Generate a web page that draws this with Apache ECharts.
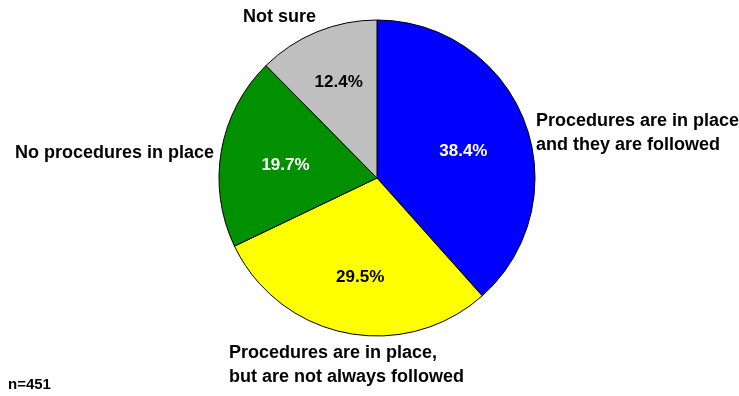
<!DOCTYPE html>
<html>
<head>
<meta charset="utf-8">
<script src="https://cdn.jsdelivr.net/npm/echarts@6/dist/echarts.min.js"></script>
<style>
  html, body { margin: 0; padding: 0; background: #fff; }
  #chart { width: 739px; height: 396px; }
</style>
</head>
<body>
<div id="chart"></div>
<script>
// Survey answers and their shares (percent)
const categories = [
  'Procedures are in place\nand they are followed',
  'Procedures are in place,\nbut are not always followed',
  'No procedures in place',
  'Not sure'
];
const values = [38.4, 29.5, 19.7, 12.4];
const sliceColors = ['#0000ff', '#ffff00', '#009000', '#c0c0c0'];
const valueLabelColors = ['#ffffff', '#000000', '#ffffff', '#000000'];
const sampleNote = 'n=451';

const FONT = '"Liberation Sans", Arial, sans-serif';
const CX = 377, CY = 178, R = 158;

// anchor points (left edge, vertical middle) of the category labels
const nameAnchors = [
  { x: 536, y: 133 },
  { x: 229, y: 365 },
  { x: 15, y: 153 },
  { x: 243, y: 17 }
];
// small nudges for the percentage labels inside the slices
const valueNudges = [
  { dx: -8, dy: 9 },
  { dx: 3, dy: 0 },
  { dx: 8, dy: 5 },
  { dx: 0, dy: -2 }
];

const sliceData = categories.map((name, i) => ({
  name: name,
  value: values[i],
  itemStyle: { color: sliceColors[i] }
}));

const valueData = categories.map((name, i) => ({
  name: name,
  value: values[i],
  label: { color: valueLabelColors[i] }
}));

const chart = echarts.init(document.getElementById('chart'), null, { renderer: 'canvas' });
chart.setOption({
  backgroundColor: '#ffffff',
  animation: false,
  graphic: [{
    type: 'text',
    left: 8,
    top: 377,
    style: { text: sampleNote, font: 'bold 15px ' + FONT, fill: '#000' }
  }],
  series: [
    {
      type: 'pie',
      center: [CX, CY],
      radius: [0, R],
      startAngle: 90,
      clockwise: true,
      silent: true,
      data: sliceData,
      itemStyle: { borderColor: '#000', borderWidth: 1 },
      label: {
        show: true,
        position: 'outside',
        formatter: '{b}',
        fontFamily: FONT,
        fontWeight: 'bold',
        fontSize: 18,
        lineHeight: 24,
        color: '#000',
        align: 'left',
        overflow: 'none'
      },
      labelLine: { show: false },
      labelLayout: function (p) {
        const a = nameAnchors[p.dataIndex];
        return { x: a.x, y: a.y, align: 'left', verticalAlign: 'middle', hideOverlap: false, moveOverlap: false };
      }
    },
    {
      // transparent ring that carries the percentage labels
      type: 'pie',
      center: [CX, CY],
      radius: [38, R],
      startAngle: 90,
      clockwise: true,
      silent: true,
      z: 3,
      data: valueData,
      itemStyle: { color: 'rgba(0,0,0,0)', borderWidth: 0 },
      label: {
        show: true,
        position: 'inside',
        formatter: function (p) { return p.value.toFixed(1) + '%'; },
        fontFamily: FONT,
        fontWeight: 'bold',
        fontSize: 17
      },
      labelLine: { show: false },
      labelLayout: function (p) {
        const n = valueNudges[p.dataIndex];
        return { dx: n.dx, dy: n.dy, hideOverlap: false, moveOverlap: false };
      }
    }
  ]
});
</script>
</body>
</html>
